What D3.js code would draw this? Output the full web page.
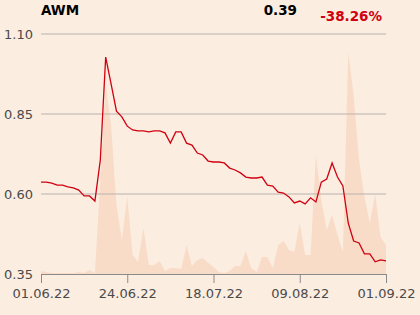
<!DOCTYPE html>
<html>
<head>
<meta charset="utf-8">
<script src="https://cdn.jsdelivr.net/npm/d3@7"></script>
<style>
  body { margin: 0; background: #fcede1; }
  svg { display: block; font-family: "DejaVu Sans", sans-serif; }
</style>
</head>
<body>
<div id="chart"></div>
<script>
// chart data
var ticker = "AWM",
    lastPrice = "0.39",
    change = "-38.26%";

// trading days 01.06.22 - 01.09.22 (weekdays, minus market holidays)
var firstDay = "2022-06-01",
    lastDay = "2022-09-01",
    holidays = ["2022-06-16", "2022-08-15"];

var prices = [
    0.637, 0.637, 0.634, 0.628, 0.628, 0.622, 0.619, 0.612, 0.594, 0.594,
    0.578, 0.706, 1.028, 0.944, 0.859, 0.841, 0.812, 0.800, 0.797, 0.797,
    0.794, 0.797, 0.797, 0.791, 0.759, 0.794, 0.794, 0.759, 0.753, 0.728,
    0.722, 0.703, 0.700, 0.700, 0.697, 0.681, 0.675, 0.666, 0.653, 0.650,
    0.650, 0.653, 0.628, 0.625, 0.606, 0.603, 0.591, 0.572, 0.578, 0.569,
    0.588, 0.575, 0.637, 0.647, 0.697, 0.653, 0.625, 0.509, 0.453, 0.447,
    0.413, 0.413, 0.388, 0.394, 0.391
];

// volume (thousands)
var volumes = [
    3, 2, 1, 1, 1, 1, 1, 2, 1, 4,
    1, 94, 189, 149, 69, 34, 78, 19, 12, 46,
    9, 9, 13, 3, 6, 6, 5, 29, 8, 14,
    16, 11, 7, 2, 1, 3, 8, 8, 23, 6,
    2, 17, 17, 6, 29, 33, 24, 22, 51, 19,
    19, 119, 74, 44, 59, 39, 22, 222, 179, 114,
    77, 51, 80, 37, 29
];

var yTicks = [0.35, 0.60, 0.85, 1.10];
var xTickLabels = ["01.06.22", "24.06.22", "18.07.22", "09.08.22", "01.09.22"];

var parse = d3.timeParse("%Y-%m-%d"),
    fmt = d3.timeFormat("%d.%m.%y"),
    isoFmt = d3.timeFormat("%Y-%m-%d");

var days = d3.timeDay.range(parse(firstDay), d3.timeDay.offset(parse(lastDay), 1))
    .filter(function(d) {
        return d.getDay() != 0 && d.getDay() != 6 && holidays.indexOf(isoFmt(d)) < 0;
    });

var width = 420, height = 315,
    margin = {left: 41, right: 34, top: 34, bottom: 41};

var svg = d3.select("#chart").append("svg")
    .attr("width", width)
    .attr("height", height);

svg.append("rect").attr("width", width).attr("height", height).attr("fill", "#fcede1");

var x = d3.scaleLinear()
    .domain([0, days.length - 1])
    .range([margin.left, width - margin.right]);

var y = d3.scaleLinear()
    .domain([0.35, 1.10])
    .range([height - margin.bottom, margin.top]);

var yVol = d3.scaleLinear()
    .domain([0, 250])
    .range([height - margin.bottom, height - margin.bottom - 250]);

// volume area
var area = d3.area()
    .x(function(d, i) { return x(i); })
    .y0(yVol(0))
    .y1(function(d) { return yVol(d); });

svg.append("path")
    .datum(volumes)
    .attr("d", area)
    .attr("fill", "#f9dcc8");

// grid lines
svg.append("g")
    .selectAll("line")
    .data(yTicks.slice(1))
    .enter()
    .append("line")
    .attr("x1", x.range()[0])
    .attr("x2", x.range()[1])
    .attr("y1", function(d) { return y(d); })
    .attr("y2", function(d) { return y(d); })
    .style("stroke", "#b8b2ad")
    .style("stroke-width", 1);

// y labels
var yAxis = d3.axisLeft(y)
    .tickValues(yTicks)
    .tickSize(0)
    .tickPadding(8)
    .tickFormat(d3.format(".2f"));

var gy = svg.append("g")
    .attr("transform", "translate(" + margin.left + ",0)")
    .call(yAxis)
    .attr("font-family", "DejaVu Sans")
    .attr("font-size", 13);
gy.select(".domain").remove();
gy.selectAll("text").attr("fill", "#4a4a4a");

// x axis
var tickIdx = xTickLabels.map(function(l) {
    return days.findIndex(function(d) { return fmt(d) == l; });
});

var xAxis = d3.axisBottom(x)
    .tickValues(tickIdx)
    .tickSize(9)
    .tickSizeOuter(0)
    .tickPadding(6)
    .tickFormat(function(d) { return fmt(days[d]); });

var gx = svg.append("g")
    .attr("transform", "translate(0," + y(0.35) + ")")
    .call(xAxis)
    .attr("font-family", "DejaVu Sans")
    .attr("font-size", 13);
gx.select(".domain").attr("stroke", "#8a8a8a");
gx.selectAll(".tick line").attr("stroke", "#8a8a8a");
gx.selectAll("text").attr("fill", "#4a4a4a");

// price line
var line = d3.line()
    .x(function(d, i) { return x(i); })
    .y(function(d) { return y(d); });

svg.append("path")
    .datum(prices)
    .attr("d", line)
    .attr("fill", "none")
    .attr("stroke", "#d00010")
    .attr("stroke-width", 1.3);

// header
svg.append("text")
    .attr("x", 41).attr("y", 15)
    .style("font-size", "13.5px").style("font-weight", "bold")
    .attr("fill", "#000")
    .text(ticker);

svg.append("text")
    .attr("x", 297).attr("y", 15)
    .attr("text-anchor", "end")
    .style("font-size", "13.5px").style("font-weight", "bold")
    .attr("fill", "#000")
    .text(lastPrice);

svg.append("text")
    .attr("x", 382).attr("y", 21)
    .attr("text-anchor", "end")
    .style("font-size", "13.5px").style("font-weight", "bold")
    .attr("fill", "#d00010")
    .text(change);
</script>
</body>
</html>
